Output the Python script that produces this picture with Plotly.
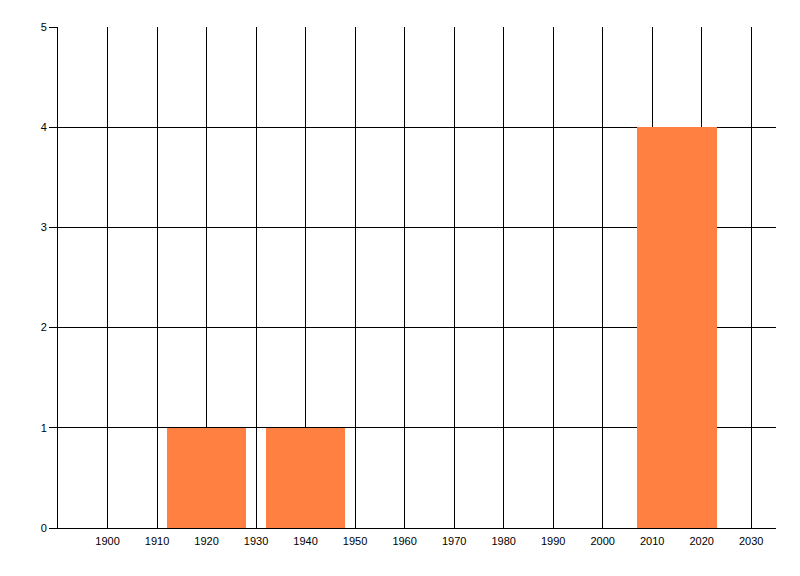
import plotly.graph_objects as go

# data
years = [1920, 1940, 2015]
counts = [1, 1, 4]
bar_width = 16
x_ticks = list(range(1900, 2031, 10))
y_ticks = [0, 1, 2, 3, 4, 5]

fig = go.Figure()

fig.add_trace(go.Bar(
    x=years,
    y=counts,
    width=[bar_width] * len(years),
    marker=dict(color="#FF8040", line=dict(width=0)),
    showlegend=False,
))

# page body has an 8px margin, so size the figure to fit the window
fig.update_layout(
    width=792,
    height=568,
    margin=dict(l=50, r=24, t=19, b=48),
    plot_bgcolor="white",
    paper_bgcolor="white",
    font=dict(family="Liberation Sans", size=11, color="black"),
    xaxis=dict(
        range=[1890, 2035],
        tickvals=x_ticks,
        ticktext=[str(v) for v in x_ticks],
        showgrid=True,
        gridcolor="black",
        gridwidth=1,
        showline=True,
        linecolor="black",
        linewidth=1,
        ticks="",
        ticklabelstandoff=3,
        zeroline=False,
        tickfont=dict(size=11),
    ),
    yaxis=dict(
        range=[0, 5],
        tickvals=y_ticks,
        showgrid=True,
        gridcolor="black",
        gridwidth=1,
        showline=True,
        linecolor="black",
        linewidth=1,
        ticks="outside",
        ticklen=8,
        tickcolor="black",
        zeroline=False,
        tickfont=dict(size=11),
    ),
    bargap=0,
)

fig.write_html("out.html")
